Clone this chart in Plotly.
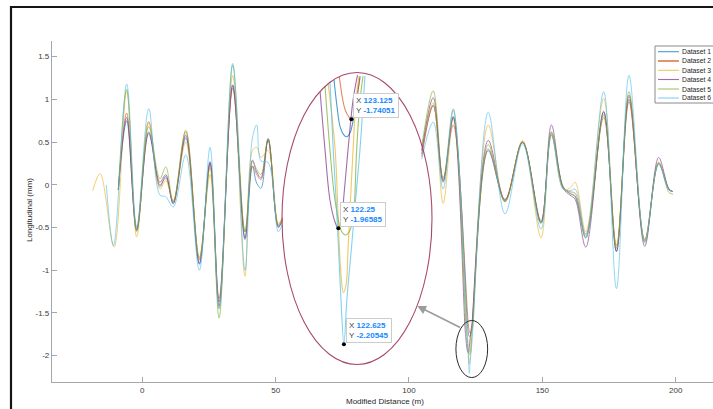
import plotly.graph_objects as go

# ---------------- data ----------------
dataset_names = ["Dataset 1", "Dataset 2", "Dataset 3", "Dataset 4", "Dataset 5", "Dataset 6"]
colors = ["#0072BD", "#D95319", "#EDB120", "#7E2F8E", "#77AC30", "#4DBEEE"]

# left part (before the zoom ellipse)
x_left = [-9.0, -5.85, -2.1, 2.4, 6.6, 8.8, 11.6, 16.3, 21.4, 25.4, 28.8, 33.9, 38.5,
          41.3, 42.9, 44.5, 47.2, 51.0, 52.6]
x_lead_3 = [-18.6, -15.8, -10.6]
y_lead_3 = [-0.07, 0.13, -0.73]
x_lead_6 = [-13.5, -10.8]
y_lead_6 = [0.0, -0.71]

d1_left = [-0.06, 0.75, -0.53, 0.62, -0.02, 0.10, -0.22, 0.55, -0.93, 0.27, -1.37, 1.16, -0.62,
           0.22, 0.02, -0.04, 0.54, -0.49, -0.40]
d2_left = [-0.06, 0.84, -0.50, 0.74, 0.00, 0.08, -0.20, 0.62, -0.88, 0.24, -1.33, 1.13, -0.55,
           0.22, 0.12, 0.06, 0.52, -0.47, -0.38]
d3_left = [1.10, -0.61, 0.73, -0.05, 0.05, -0.18, 0.50, -0.86, 0.12, -1.45, 1.28, -1.07,
           0.40, 0.44, 0.32, 0.40, -0.45, -0.38]
d4_left = [-0.06, 0.79, -0.53, 0.60, 0.03, 0.12, -0.22, 0.58, -0.92, 0.26, -1.42, 1.17, -0.64,
           0.29, 0.15, 0.08, 0.53, -0.50, -0.41]
d5_left = [-0.06, 1.12, -0.55, 0.68, 0.07, 0.21, -0.20, 0.64, -0.85, 0.20, -1.56, 1.40, -0.55,
           0.27, 0.18, 0.12, 0.54, -0.48, -0.40]
d6_left = [1.18, -0.50, 0.89, -0.12, -0.14, -0.26, 0.35, -1.00, 0.44, -1.45, 1.42, -1.00,
           0.55, 0.70, 0.28, 0.26, -0.55, -0.45]

# right part (after the zoom ellipse)
x_right_pre = [104.8, 109.1, 112.8, 116.6]
x_right_post = [129.7, 136.0, 142.6, 149.5, 153.4, 157.8, 160.3, 162.3, 166.3, 173.0, 177.8,
                182.5, 188.4, 193.6, 197.5, 199.0]

d1_pre = [0.36, 0.93, 0.05, 0.80]
d2_pre = [0.33, 0.93, 0.08, 0.70]
d3_pre = [0.40, 0.96, -0.22, 0.78]
d4_pre = [0.40, 1.02, 0.03, 0.79]
d5_pre = [0.45, 1.10, 0.05, 0.89]
d6_pre = [0.30, 0.735, -0.05, 0.87]

d1_post = [0.40, -0.19, 0.50, -0.45, 0.60, -0.02, -0.10, -0.14, -0.62, 0.85, -0.78, 1.00, -0.66, 0.24, -0.06, -0.08]
d2_post = [0.42, -0.17, 0.50, -0.42, 0.58, -0.03, -0.08, -0.10, -0.58, 0.79, -0.71, 0.97, -0.64, 0.25, -0.05, -0.08]
d3_post = [0.70, -0.20, 0.52, -0.62, 0.62, -0.05, -0.04, 0.03, -0.55, 1.01, -0.75, 1.03, -0.65, 0.27, -0.05, -0.08]
d4_post = [0.52, -0.18, 0.50, -0.44, 0.70, -0.04, -0.12, -0.17, -0.73, 0.86, -0.78, 1.05, -0.72, 0.32, -0.05, -0.08]
d5_post = [0.47, -0.20, 0.50, -0.45, 0.62, -0.03, -0.10, -0.13, -0.62, 0.82, -0.74, 1.09, -0.68, 0.26, -0.09, -0.11]
d6_post = [0.85, -0.34, 0.48, -0.52, 0.58, -0.05, -0.07, -0.05, -0.60, 1.09, -1.215, 1.28, -0.66, 0.25, -0.06, -0.08]

# zoomed detail around the deepest dip (inside the ellipse)
d1_zx = [121.96, 122.16, 122.36, 122.59, 122.81, 123.04, 123.22, 123.48, 123.71]
d1_zy = [-1.659, -1.7135, -1.7548, -1.7716, -1.7766, -1.7683, -1.7477, -1.6993, -1.6512]
d2_zx = [122.32, 122.70, 123.0, 123.125, 123.30, 123.48, 123.71]
d2_zy = [-1.6532, -1.7200, -1.7375, -1.74051, -1.7300, -1.6993, -1.6547]
d3_zx = [121.56, 122.03, 122.30, 122.46, 122.59, 122.77, 122.90, 123.07, 123.24, 123.44, 123.64]
d3_zy = [-1.666, -1.8009, -1.990, -2.073, -2.0989, -2.083, -2.011, -1.907, -1.804, -1.700, -1.6511]
d4_zx = [121.03, 121.36, 121.69, 122.03, 122.25, 122.43, 122.63, 122.90, 123.24, 123.54]
d4_zy = [-1.6843, -1.8043, -1.9073, -1.9528, -1.96585, -1.9570, -1.8971, -1.8043, -1.7010, -1.6491]
d5_zx = [121.36, 121.69, 122.03, 122.48, 122.77, 123.04, 123.26, 123.48, 123.71, 123.91]
d5_zy = [-1.6719, -1.8043, -1.9076, -1.9729, -1.9797, -1.9694, -1.9419, -1.8041, -1.7008, -1.6512]
d6_zx = [121.69, 121.91, 122.10, 122.27, 122.43, 122.625, 122.83, 123.13, 123.42, 123.71, 124.04]
d6_zy = [-1.6617, -1.8041, -1.9070, -2.0110, -2.1140, -2.20545, -2.1110, -2.0077, -1.9043, -1.8010, -1.6511]

# data tips
tip_x = [123.125, 122.25, 122.625]
tip_y = [-1.74051, -1.96585, -2.20545]

x_tick_vals = [0, 50, 100, 150, 200]
x_tick_text = ["0", "50", "100", "150", "200"]
y_tick_vals = [-2, -1.5, -1, -0.5, 0, 0.5, 1, 1.5]
y_tick_text = ["-2", "-1.5", "-1", "-0.5", "0", "0.5", "1", "1.5"]

# ---------------- layout geometry ----------------
W, H = 713, 409
ML, MR, MT, MB = 52, 0, 41, 27
PW, PH = W - ML - MR, H - MT - MB


def px_x(p):
    return (p - ML) / PW


def px_y(p):
    return (H - MB - p) / PH


FONT = "Liberation Sans, Arial, Helvetica, sans-serif"

lefts = [
    ([], [], x_left, d1_left),
    ([], [], x_left, d2_left),
    (x_lead_3, y_lead_3, x_left[1:], d3_left),
    ([], [], x_left, d4_left),
    ([], [], x_left, d5_left),
    (x_lead_6, y_lead_6, x_left[1:], d6_left),
]
pres = [d1_pre, d2_pre, d3_pre, d4_pre, d5_pre, d6_pre]
posts = [d1_post, d2_post, d3_post, d4_post, d5_post, d6_post]
zxs = [d1_zx, d2_zx, d3_zx, d4_zx, d5_zx, d6_zx]
zys = [d1_zy, d2_zy, d3_zy, d4_zy, d5_zy, d6_zy]

fig = go.Figure()

for i in range(6):
    lx, ly, bx, by = lefts[i]
    xs = lx + bx + [None] + x_right_pre + zxs[i] + x_right_post
    ys = ly + by + [None] + pres[i] + zys[i] + posts[i]
    fig.add_trace(go.Scatter(
        x=xs, y=ys, mode="lines", name=dataset_names[i],
        line=dict(color=colors[i], width=1, shape="spline", smoothing=1),
        opacity=0.62, connectgaps=False, showlegend=False, hoverinfo="skip",
        xaxis="x", yaxis="y"))

for i in range(6):
    fig.add_trace(go.Scatter(
        x=zxs[i], y=zys[i], mode="lines", name=dataset_names[i],
        line=dict(color=colors[i], width=1.1, shape="spline", smoothing=1),
        opacity=0.7, showlegend=False, hoverinfo="skip", xaxis="x2", yaxis="y2"))

fig.add_trace(go.Scatter(
    x=tip_x, y=tip_y, mode="markers", marker=dict(color="black", size=4),
    showlegend=False, hoverinfo="skip", xaxis="x2", yaxis="y2"))

axis_common = dict(showline=True, linecolor="#a6a6a6", linewidth=1.2, ticks="inside",
                   ticklen=5, tickwidth=1, tickcolor="#a6a6a6", showgrid=False,
                   zeroline=False, tickfont=dict(family=FONT, size=8, color="#3a3a3a"),
                   mirror=False)

fig.update_layout(
    width=W, height=H,
    margin=dict(l=ML, r=MR, t=MT, b=MB, pad=0),
    paper_bgcolor="white", plot_bgcolor="rgba(0,0,0,0)",
    showlegend=False,
    xaxis=dict(range=[-33.86, 214.0], domain=[0, 1], anchor="y",
               tickmode="array", tickvals=x_tick_vals, ticktext=x_tick_text, **axis_common),
    yaxis=dict(range=[-2.308, 1.683], domain=[0, 1], anchor="x",
               tickmode="array", tickvals=y_tick_vals, ticktext=y_tick_text, **axis_common),
    xaxis2=dict(range=[118.47, 128.54], domain=[px_x(282), px_x(432)], anchor="y2",
                visible=False),
    yaxis2=dict(range=[-2.2473, -1.6439], domain=[px_y(364.5), px_y(72.5)], anchor="x2",
                visible=False),
)

shapes = []
# outer dark frame (top and left edges of the screenshot)
shapes.append(dict(type="line", xref="paper", yref="paper", x0=px_x(10), x1=px_x(716),
                   y0=px_y(7), y1=px_y(7), line=dict(color="#151515", width=2.2)))
shapes.append(dict(type="line", xref="paper", yref="paper", x0=px_x(11), x1=px_x(11),
                   y0=px_y(6), y1=px_y(412), line=dict(color="#151515", width=2.2)))
# zoom ellipse
shapes.append(dict(type="circle", xref="x2 domain", yref="y2 domain", x0=0, x1=1, y0=0, y1=1,
                   line=dict(color="#a8486e", width=1.1)))
# small ellipse around the dip
shapes.append(dict(type="circle", xref="x", yref="y", x0=117.6, x1=129.5, y0=-2.256, y1=-1.588,
                   line=dict(color="#2b2b2b", width=1)))

# legend box
leg_top, leg_bot, leg_left, leg_right = 46, 103, 655, 716
shapes.append(dict(type="rect", xref="paper", yref="paper", x0=px_x(leg_left), x1=px_x(leg_right),
                   y0=px_y(leg_bot), y1=px_y(leg_top), line=dict(color="#8a8a8a", width=1),
                   fillcolor="white"))
row_y = [51.7, 61.0, 70.3, 79.5, 89.0, 98.0]
annotations = []
for i in range(6):
    shapes.append(dict(type="line", xref="paper", yref="paper", x0=px_x(658), x1=px_x(679),
                       y0=px_y(row_y[i]), y1=px_y(row_y[i]),
                       line=dict(color=colors[i], width=1.8 if i == 1 else 1.1), opacity=0.7))
    annotations.append(dict(xref="paper", yref="paper", x=px_x(679.5), y=px_y(row_y[i]),
                            xanchor="left", yanchor="middle", showarrow=False,
                            text=dataset_names[i],
                            font=dict(family=FONT, size=6.8, color="#262626")))

# axis titles
annotations.append(dict(xref="paper", yref="paper", x=px_x(385), y=px_y(401),
                        xanchor="center", yanchor="middle", showarrow=False,
                        text="Modified Distance (m)",
                        font=dict(family=FONT, size=8, color="#262626")))
annotations.append(dict(xref="paper", yref="paper", x=px_x(29), y=px_y(210),
                        xanchor="center", yanchor="middle", showarrow=False, textangle=-90,
                        text="Longitudinal (mm)",
                        font=dict(family=FONT, size=8, color="#262626")))

# arrow from the small ellipse to the zoom ellipse
annotations.append(dict(xref="x", yref="y", x=103.1, y=-1.419, ax=44.4, ay=22.3,
                        text="", showarrow=True, arrowhead=2, arrowsize=1.1,
                        arrowwidth=1.6, arrowcolor="#9c9c9c"))

# data tip boxes
for tx, ty in zip(tip_x, tip_y):
    txt = ("<span style='color:#404040'>X</span> <b><span style='color:#1588ff'>%s</span></b><br>"
           "<span style='color:#404040'>Y</span> <b><span style='color:#1588ff'>%s</span></b>"
           % (repr(tx), repr(ty)))
    annotations.append(dict(xref="x2", yref="y2", x=tx, y=ty, xanchor="left", yanchor="bottom",
                            xshift=2, yshift=1, showarrow=False, text=txt, align="left",
                            bgcolor="white", bordercolor="#cccccc", borderwidth=1, borderpad=2,
                            font=dict(family=FONT, size=8, color="#404040")))

fig.update_layout(shapes=shapes, annotations=annotations)

fig.write_html("out.html", config={"displayModeBar": False},
               post_script="document.body.style.margin='0px';document.body.style.overflow='hidden';")
